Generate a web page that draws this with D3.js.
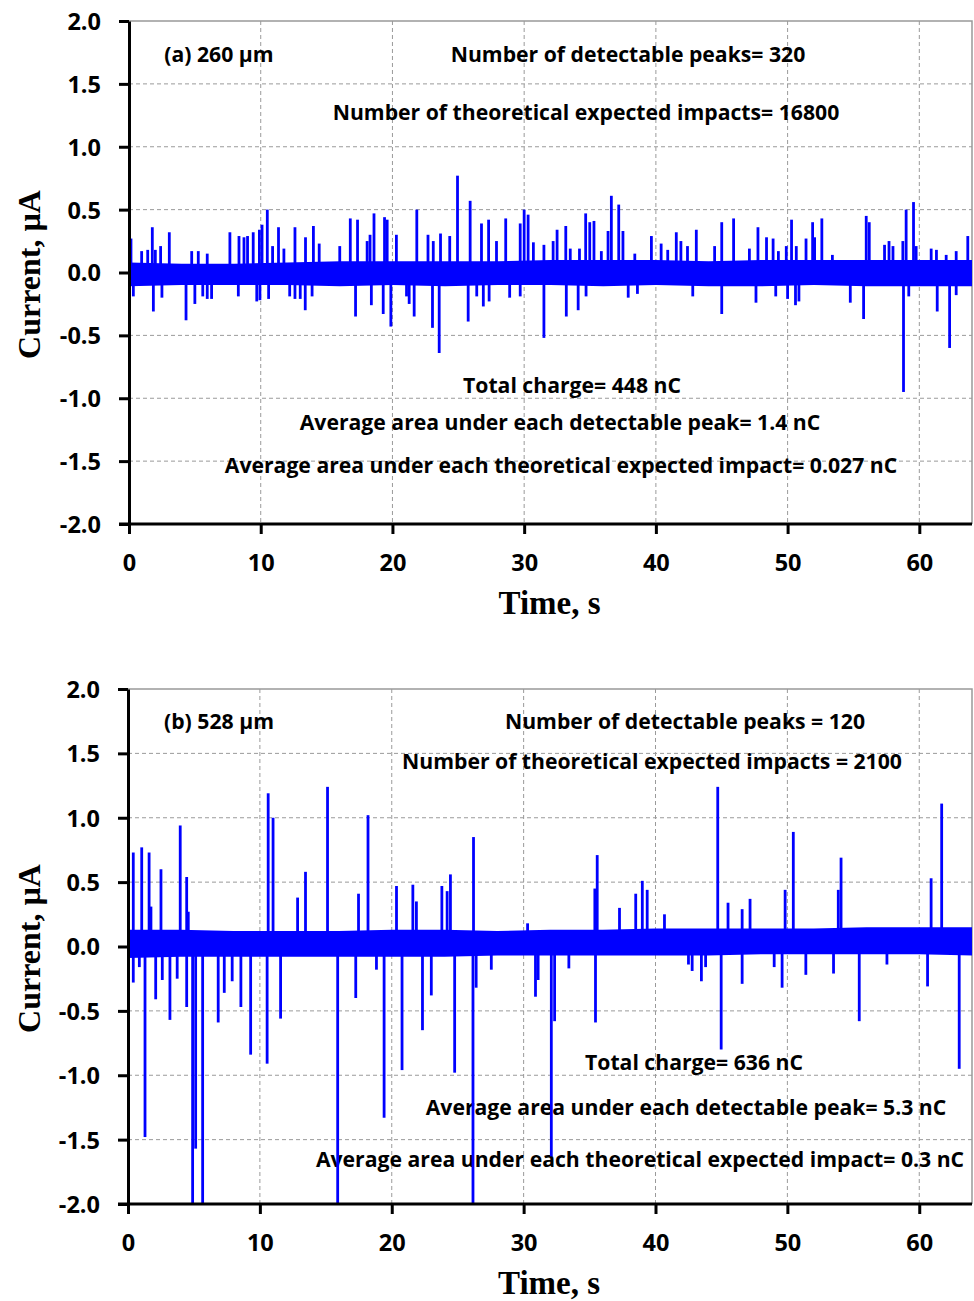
<!DOCTYPE html>
<html>
<head>
<meta charset="utf-8">
<script src="https://cdn.jsdelivr.net/npm/d3@7"></script>
<style>
  body { margin: 0; background: #fff; }
  .tick-label { font-family: "Open Sans", sans-serif; font-weight: 700; font-size: 23.5px; fill: #000; }
  .note { font-family: "Open Sans", sans-serif; font-weight: 700; font-size: 21.2px; fill: #000; }
  .axis-title { font-family: "Liberation Serif", "Times New Roman", serif; font-weight: 700; fill: #000; }
</style>
</head>
<body>
<div id="chart"></div>
<script>
// ---- data ----
var noiseTimes = [0, 4, 8, 12, 16, 20, 24, 28, 32, 36, 40, 44, 48, 52, 56, 60, 64];

// (a) 260 um
var noiseUpperA = [0.08, 0.07, 0.07, 0.08, 0.09, 0.09, 0.09, 0.09, 0.10, 0.10, 0.10, 0.09, 0.10, 0.10, 0.10, 0.10, 0.10];
var noiseLowerA = [-0.11, -0.10, -0.10, -0.10, -0.11, -0.10, -0.11, -0.10, -0.10, -0.11, -0.10, -0.11, -0.11, -0.10, -0.11, -0.11, -0.11];
var spikesUpA = [
  [0.15, 0.27], [0.96, 0.17], [1.42, 0.18], [1.77, 0.36], [2.0, 0.18], [2.4, 0.21], [3.06, 0.32],
  [4.76, 0.17], [5.26, 0.17], [5.94, 0.15], [7.66, 0.32], [8.35, 0.29], [8.73, 0.28], [9.0, 0.29],
  [9.43, 0.32], [9.9, 0.34], [10.1, 0.38], [10.5, 0.50], [10.9, 0.21], [11.35, 0.36], [11.76, 0.19],
  [12.6, 0.36], [13.4, 0.28], [14.0, 0.37], [14.44, 0.23], [16.0, 0.21], [16.8, 0.43], [17.35, 0.42],
  [18.08, 0.25], [18.3, 0.30], [18.6, 0.47], [19.4, 0.44], [19.6, 0.42], [20.3, 0.30], [21.85, 0.50],
  [22.7, 0.30], [23.1, 0.25], [23.65, 0.31], [24.35, 0.29], [24.94, 0.77], [25.9, 0.57], [26.76, 0.39],
  [27.3, 0.42], [27.9, 0.25], [28.6, 0.43], [29.7, 0.39], [30.0, 0.50], [30.3, 0.46], [30.7, 0.24],
  [31.5, 0.22], [32.2, 0.25], [32.5, 0.34], [33.16, 0.37], [33.5, 0.19], [34.2, 0.19], [34.67, 0.47],
  [34.98, 0.40], [35.3, 0.41], [35.86, 0.17], [36.37, 0.33], [36.62, 0.61], [37.18, 0.54], [37.5, 0.33],
  [38.4, 0.15], [39.66, 0.29], [40.4, 0.23], [40.9, 0.18], [41.55, 0.32], [41.9, 0.25], [42.4, 0.21],
  [43.07, 0.34], [44.46, 0.21], [45.0, 0.40], [45.9, 0.43], [47.1, 0.19], [47.75, 0.36], [48.4, 0.28],
  [48.9, 0.27], [49.3, 0.17], [49.9, 0.21], [50.3, 0.42], [50.66, 0.21], [51.4, 0.27], [51.9, 0.40],
  [52.05, 0.28], [52.6, 0.43], [53.4, 0.14], [55.97, 0.45], [56.2, 0.40], [57.36, 0.22], [57.7, 0.25],
  [58.0, 0.21], [58.75, 0.25], [59.0, 0.50], [59.56, 0.56], [59.76, 0.21], [60.9, 0.19], [61.3, 0.18],
  [62.04, 0.14], [62.8, 0.17], [63.68, 0.29]
];
var spikesDownA = [
  [0.03, -0.25], [0.33, -0.19], [1.85, -0.31], [2.5, -0.20], [4.33, -0.38], [5.0, -0.25], [5.6, -0.19],
  [5.94, -0.21], [6.27, -0.21], [8.3, -0.19], [9.7, -0.23], [9.94, -0.22], [10.6, -0.21], [12.2, -0.19],
  [12.6, -0.21], [13.0, -0.21], [13.38, -0.30], [13.9, -0.19], [17.2, -0.35], [18.4, -0.26], [19.3, -0.33],
  [19.88, -0.43], [21.07, -0.19], [21.27, -0.25], [21.65, -0.35], [23.04, -0.44], [23.55, -0.64],
  [25.75, -0.39], [26.4, -0.19], [26.9, -0.27], [27.34, -0.23], [28.9, -0.20], [29.7, -0.19], [31.5, -0.52],
  [33.2, -0.35], [34.1, -0.30], [34.7, -0.19], [37.9, -0.20], [38.6, -0.17], [42.8, -0.19], [45.0, -0.33],
  [47.6, -0.24], [49.1, -0.19], [50.0, -0.21], [50.6, -0.26], [50.86, -0.23], [54.76, -0.24], [55.77, -0.37],
  [58.8, -0.95], [59.2, -0.19], [61.36, -0.31], [62.3, -0.60], [62.8, -0.18]
];

// (b) 528 um
var noiseUpperB = [0.13, 0.13, 0.12, 0.12, 0.12, 0.13, 0.13, 0.12, 0.13, 0.13, 0.14, 0.14, 0.14, 0.14, 0.15, 0.15, 0.15];
var noiseLowerB = [-0.09, -0.08, -0.08, -0.08, -0.08, -0.08, -0.08, -0.07, -0.07, -0.07, -0.07, -0.07, -0.06, -0.06, -0.06, -0.06, -0.07];
var spikesUpB = [
  [0.4, 0.73], [1.04, 0.77], [1.6, 0.73], [1.74, 0.31], [2.5, 0.60], [3.96, 0.94], [4.45, 0.54],
  [4.57, 0.27], [10.63, 1.19], [11.0, 1.00], [12.86, 0.38], [13.46, 0.58], [15.13, 1.24], [17.48, 0.41],
  [18.2, 1.02], [20.36, 0.47], [21.6, 0.48], [21.87, 0.35], [23.8, 0.47], [24.2, 0.43], [24.45, 0.56],
  [26.2, 0.85], [30.3, 0.18], [35.4, 0.45], [35.58, 0.71], [37.27, 0.30], [38.5, 0.41], [39.0, 0.51],
  [39.37, 0.44], [40.68, 0.25], [44.72, 1.24], [45.5, 0.34], [46.57, 0.29], [47.17, 0.37], [49.83, 0.44],
  [50.45, 0.89], [53.86, 0.44], [54.07, 0.69], [60.9, 0.53], [61.7, 1.11]
];
var spikesDownB = [
  [0.4, -0.28], [0.86, -0.16], [1.29, -1.48], [2.1, -0.41], [2.6, -0.26], [3.18, -0.57], [3.73, -0.25],
  [4.45, -0.47], [4.9, -2.0], [5.13, -1.57], [5.66, -2.0], [6.84, -0.59], [7.3, -0.36], [7.9, -0.27],
  [8.56, -0.47], [9.3, -0.84], [10.55, -0.91], [11.57, -0.56], [15.9, -2.0], [17.27, -0.40], [18.84, -0.18],
  [19.42, -1.33], [20.78, -0.96], [22.33, -0.65], [23.0, -0.38], [24.77, -0.98], [26.16, -2.0], [26.4, -0.32],
  [27.55, -0.18], [30.9, -0.39], [31.1, -0.26], [32.1, -1.63], [32.35, -0.58], [33.43, -0.17], [35.45, -0.59],
  [42.5, -0.14], [42.78, -0.19], [43.48, -0.27], [43.8, -0.16], [44.98, -0.80], [46.57, -0.29], [49.0, -0.16],
  [49.6, -0.32], [51.4, -0.22], [53.5, -0.21], [55.45, -0.58], [57.55, -0.14], [60.63, -0.31], [63.03, -0.95]
];

var xTicks = [0, 10, 20, 30, 40, 50, 60];
var yTicks = [-2.0, -1.5, -1.0, -0.5, 0.0, 0.5, 1.0, 1.5, 2.0];
var xTitle = "Time, s";
var yTitle = "Current, µA";

var notesA = [
  "(a) 260 µm",
  "Number of detectable peaks= 320",
  "Number of theoretical expected impacts= 16800",
  "Total charge= 448 nC",
  "Average area under each detectable peak= 1.4 nC",
  "Average area under each theoretical expected impact= 0.027 nC"
];
var notesB = [
  "(b) 528 µm",
  "Number of detectable peaks = 120",
  "Number of theoretical expected impacts = 2100",
  "Total charge= 636 nC",
  "Average area under each detectable peak= 5.3 nC",
  "Average area under each theoretical expected impact= 0.3 nC"
];

// ---- drawing ----
var svg = d3.select("#chart").append("svg")
    .attr("width", 974)
    .attr("height", 1301);

var blue = "#0000ff";

function drawPanel(cfg) {
    var x = d3.scaleLinear().domain([0, 64]).range([cfg.left, cfg.right]);
    var y = d3.scaleLinear().domain([-2, 2]).range([cfg.bottom, cfg.top]);

    var g = svg.append("g");

    // grid
    g.selectAll("line.hgrid")
        .data(yTicks.filter(function (d) { return d > -2 && d < 2; }))
        .enter().append("line")
        .attr("x1", cfg.left).attr("x2", cfg.right)
        .attr("y1", function (d) { return y(d); })
        .attr("y2", function (d) { return y(d); })
        .style("stroke", "#9a9a9a").style("stroke-width", 1)
        .style("stroke-dasharray", "4,3");

    g.selectAll("line.vgrid")
        .data(xTicks.filter(function (d) { return d > 0; }))
        .enter().append("line")
        .attr("x1", function (d) { return x(d); })
        .attr("x2", function (d) { return x(d); })
        .attr("y1", cfg.top).attr("y2", cfg.bottom)
        .style("stroke", "#9a9a9a").style("stroke-width", 1)
        .style("stroke-dasharray", "4,3");

    // plot border (top, right)
    g.append("path")
        .attr("d", "M" + cfg.left + "," + cfg.top + "H" + cfg.right + "V" + cfg.bottom)
        .style("fill", "none").style("stroke", "#999").style("stroke-width", 1.5);

    // notes
    g.selectAll("text.note")
        .data(cfg.notes)
        .enter().append("text")
        .attr("class", "note")
        .attr("text-anchor", "middle")
        .attr("x", function (d, i) { return cfg.noteX[i]; })
        .attr("y", function (d, i) { return cfg.noteY[i]; })
        .text(function (d) { return d; });

    // noise band
    var band = noiseTimes.map(function (t, i) {
        return {t: t, hi: cfg.upper[i], lo: cfg.lower[i]};
    });
    var area = d3.area()
        .x(function (d) { return x(d.t); })
        .y0(function (d) { return y(d.lo); })
        .y1(function (d) { return y(d.hi); });
    g.append("path")
        .datum(band)
        .attr("d", area)
        .style("fill", blue);

    // spikes
    var spikes = cfg.up.concat(cfg.down);
    g.selectAll("line.spike")
        .data(spikes)
        .enter().append("line")
        .attr("x1", function (d) { return x(d[0]); })
        .attr("x2", function (d) { return x(d[0]); })
        .attr("y1", y(0))
        .attr("y2", function (d) { return y(Math.max(-2, d[1])); })
        .style("stroke", blue)
        .style("stroke-width", 2.8);

    // axes
    var yAxis = g.append("g")
        .attr("transform", "translate(" + cfg.left + ",0)")
        .call(d3.axisLeft(y).tickValues(yTicks).tickSize(10).tickSizeOuter(0)
            .tickFormat(function (d) { return d.toFixed(1); }));
    var xAxis = g.append("g")
        .attr("transform", "translate(0," + cfg.bottom + ")")
        .call(d3.axisBottom(x).tickValues(xTicks).tickSize(10).tickSizeOuter(0));

    [yAxis, xAxis].forEach(function (ax) {
        ax.attr("font-size", null).attr("font-family", null);
        ax.select(".domain").style("stroke", "#000").style("stroke-width", 3);
        ax.selectAll(".tick line").style("stroke", "#000").style("stroke-width", 3);
        ax.selectAll(".tick text").attr("class", "tick-label");
    });
    yAxis.selectAll(".tick text").attr("x", -28).attr("dy", "0.36em");
    xAxis.selectAll(".tick text").attr("y", 30).attr("dy", "0.71em");
    // extend x axis line left to meet the y tick
    xAxis.select(".domain").attr("d", "M" + (cfg.left - 10) + ",0H" + cfg.right);

    // titles
    g.append("text")
        .attr("class", "axis-title")
        .attr("text-anchor", "middle")
        .attr("font-size", 33)
        .attr("x", (cfg.left + cfg.right) / 2 - 1)
        .attr("y", cfg.bottom + 90)
        .text(xTitle);

    g.append("text")
        .attr("class", "axis-title")
        .attr("text-anchor", "middle")
        .attr("font-size", 32)
        .attr("transform", "translate(40," + ((cfg.top + cfg.bottom) / 2 + 2) + ") rotate(-90)")
        .text(yTitle);
}

drawPanel({
    left: 129, right: 972, top: 21, bottom: 524,
    upper: noiseUpperA, lower: noiseLowerA, up: spikesUpA, down: spikesDownA,
    notes: notesA,
    noteX: [219, 628, 586, 572, 560, 561],
    noteY: [62, 62, 120, 393, 430, 473]
});

drawPanel({
    left: 128, right: 972, top: 689, bottom: 1204,
    upper: noiseUpperB, lower: noiseLowerB, up: spikesUpB, down: spikesDownB,
    notes: notesB,
    noteX: [219, 685, 652, 694, 686, 640],
    noteY: [729, 729, 769, 1070, 1115, 1167]
});
</script>
</body>
</html>
